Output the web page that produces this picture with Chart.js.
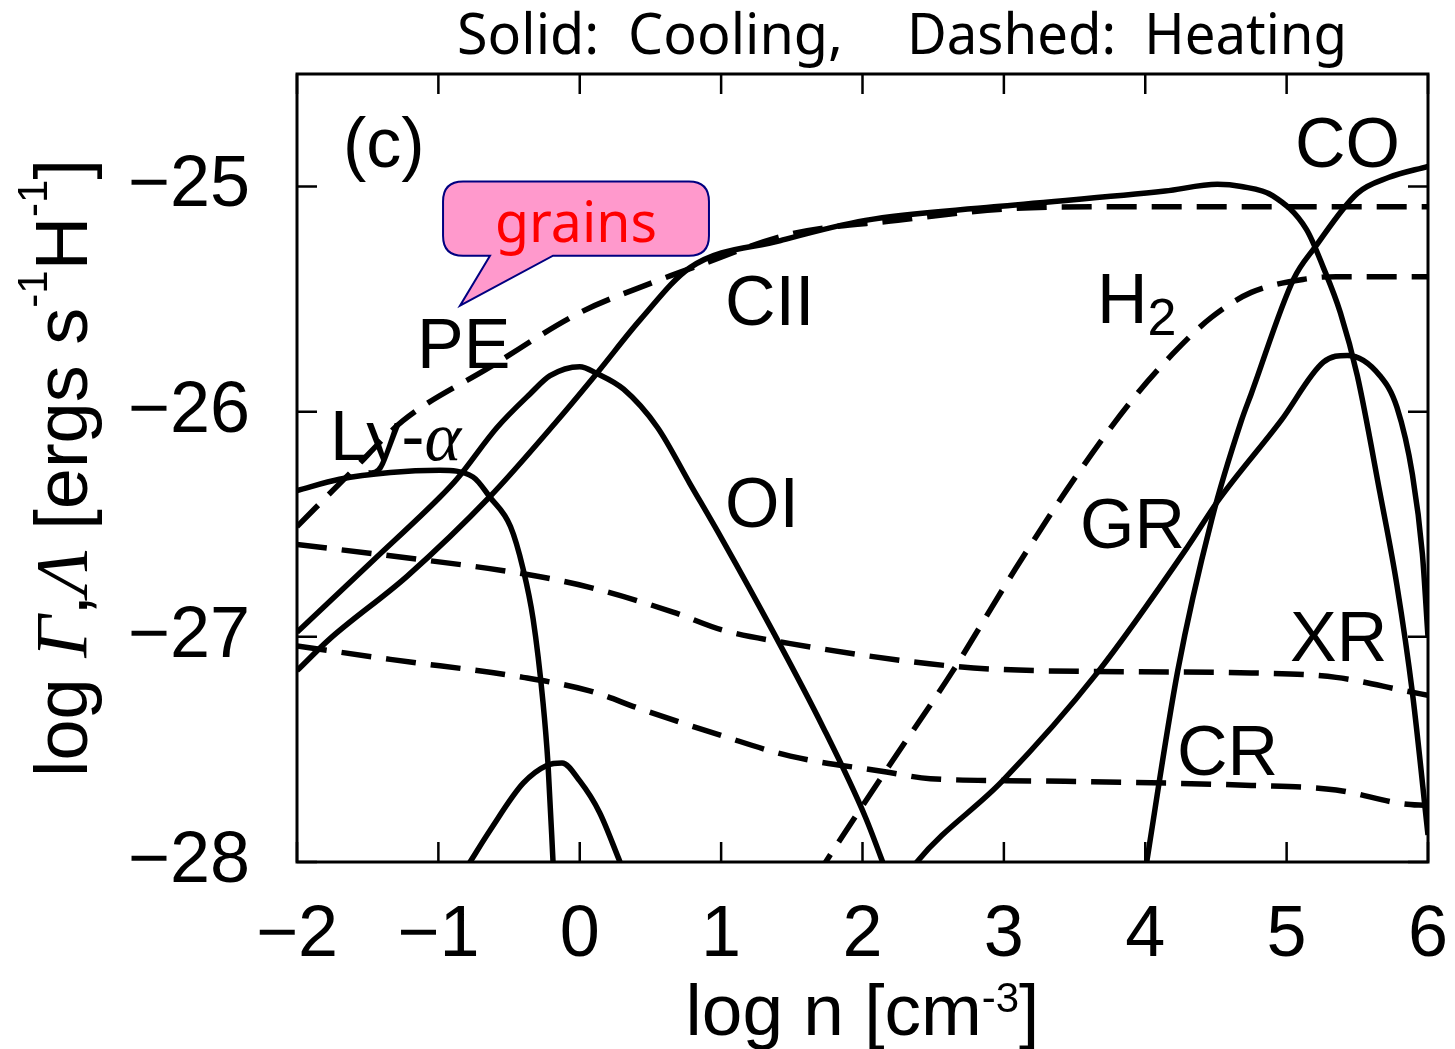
<!DOCTYPE html>
<html>
<head>
<meta charset="utf-8">
<title>Cooling and heating rates</title>
<script src="https://cdn.jsdelivr.net/npm/chart.js@4.4.1/dist/chart.umd.min.js"></script>
<style>
  html, body { margin: 0; padding: 0; background: #fff; overflow: hidden; }
  canvas { display: block; }
</style>
</head>
<body>
<canvas id="coolingChart" width="1455" height="1049"></canvas>
<script>
// 目盛り
const xTicks = [-2, -1, 0, 1, 2, 3, 4, 5, 6];
const yTicks = [-28, -27, -26, -25];

// 冷却率（実線） log n, log Λ
const lyaX = [-2.0, -1.70, -1.34, -0.99, -0.755, -0.635, -0.49, -0.40, -0.33, -0.26, -0.225, -0.185];
const lyaY = [-26.35, -26.30, -26.27, -26.26, -26.29, -26.38, -26.51, -26.70, -26.92, -27.29, -27.56, -28.05];

const ciiX = [-2.0, -1.77, -1.22, -0.64, -0.16, 0.12, 0.43, 0.78, 1.42, 2.02, 2.93, 4.14, 4.51, 4.68, 4.90, 5.14, 5.26, 5.38, 5.50, 5.66, 5.78, 5.89, 6.0];
const ciiY = [-27.15, -27.01, -26.73, -26.38, -26.04, -25.83, -25.59, -25.36, -25.24, -25.15, -25.09, -25.02, -24.99, -25.00, -25.04, -25.19, -25.36, -25.56, -25.84, -26.36, -26.77, -27.25, -27.88];

const oiX = [-2.0, -1.46, -0.99, -0.87, -0.585, -0.35, -0.21, 0.0, 0.12, 0.31, 0.55, 0.78, 1.01, 1.37, 1.72, 2.02, 2.19];
const oiY = [-26.98, -26.66, -26.38, -26.30, -26.07, -25.92, -25.84, -25.80, -25.83, -25.90, -26.07, -26.32, -26.57, -26.98, -27.40, -27.80, -28.08];

const extraX = [-0.856, -0.776, -0.635, -0.40, -0.23, -0.125, 0.0, 0.14, 0.285, 0.338];
const extraY = [-28.08, -28.0, -27.86, -27.65, -27.57, -27.56, -27.64, -27.78, -28.0, -28.08];

const grX = [2.30, 2.385, 2.99, 3.66, 4.30, 4.51, 4.96, 5.26, 5.43, 5.66, 5.78, 5.89, 5.96, 6.0];
const grY = [-28.08, -28.0, -27.64, -27.16, -26.60, -26.40, -26.04, -25.78, -25.75, -25.84, -25.98, -26.28, -26.63, -27.0];

const coX = [3.99, 4.23, 4.47, 4.68, 4.75, 5.05, 5.20, 5.50, 5.72, 6.0];
const coY = [-28.08, -27.15, -26.48, -26.04, -25.92, -25.41, -25.27, -25.03, -24.96, -24.91];

// 加熱率（破線） log n, log Γ
const peX = [-2.0, -1.62, -1.25, -0.63, 0.0, 0.5, 0.8, 1.5, 2.25, 3.0, 3.7, 4.5, 5.0, 6.0];
const peY = [-26.51, -26.27, -26.04, -25.80, -25.56, -25.43, -25.36, -25.21, -25.15, -25.10, -25.09, -25.09, -25.09, -25.09];

const h2X = [1.66, 1.75, 2.17, 2.63, 3.08, 3.54, 3.93, 4.23, 4.47, 4.75, 5.14, 5.35, 6.0];
const h2Y = [-28.08, -27.99, -27.59, -27.16, -26.70, -26.26, -25.93, -25.72, -25.58, -25.47, -25.41, -25.40, -25.40];

const xrX = [-2.0, -1.34, -0.40, 0.07, 0.66, 1.01, 1.49, 2.63, 3.23, 4.75, 5.35, 5.84, 6.0];
const xrY = [-26.59, -26.64, -26.72, -26.78, -26.89, -26.97, -27.03, -27.13, -27.15, -27.16, -27.18, -27.24, -27.26];

const crX = [-2.0, -1.34, -0.40, 0.07, 0.43, 1.01, 1.49, 2.17, 2.48, 3.23, 4.75, 5.35, 5.81, 6.0];
const crY = [-27.04, -27.10, -27.18, -27.24, -27.32, -27.44, -27.53, -27.60, -27.63, -27.64, -27.66, -27.68, -27.74, -27.75];

const SANS = '"Liberation Sans", Arial, Helvetica, sans-serif';
const SERIF = '"Liberation Serif", "Times New Roman", serif';
const GOTHIC = '"Noto Sans", "DejaVu Sans", sans-serif';

const series = [
  { name: 'Ly-α', x: lyaX, y: lyaY, dashed: false },
  { name: 'CII', x: ciiX, y: ciiY, dashed: false },
  { name: 'OI', x: oiX, y: oiY, dashed: false },
  { name: 'extra', x: extraX, y: extraY, dashed: false },
  { name: 'GR', x: grX, y: grY, dashed: false },
  { name: 'CO', x: coX, y: coY, dashed: false },
  { name: 'PE', x: peX, y: peY, dashed: true },
  { name: 'H2', x: h2X, y: h2Y, dashed: true },
  { name: 'XR', x: xrX, y: xrY, dashed: true },
  { name: 'CR', x: crX, y: crY, dashed: true }
];

// 曲線の名前（左端・ベースラインをデータ座標で指定）
const curveLabels = [
  { x: -1.675, y: -24.911, runs: [{ t: '(c)' }] },
  { x: -1.151, y: -25.804, runs: [{ t: 'PE' }] },
  { x: -1.767, y: -26.213, runs: [{ t: 'Ly-' }, { t: 'α', font: 'italic 70px ' + SERIF }] },
  { x: 1.027, y: -25.613, runs: [{ t: 'CII' }] },
  { x: 1.027, y: -26.511, runs: [{ t: 'OI' }] },
  { x: 3.659, y: -25.605, runs: [{ t: 'H' }, { t: '2', font: '52px ' + SANS, dy: 12 }] },
  { x: 3.538, y: -26.604, runs: [{ t: 'GR' }] },
  { x: 5.024, y: -27.107, runs: [{ t: 'XR' }] },
  { x: 4.225, y: -27.613, runs: [{ t: 'CR' }] },
  { x: 5.059, y: -24.911, runs: [{ t: 'CO' }] }
];

// 複数フォントを並べて描く
function drawRuns(ctx, runs, x, y, align, baseFont) {
  let total = 0;
  runs.forEach(r => {
    ctx.font = r.font || baseFont;
    r.w = ctx.measureText(r.t).width;
    total += r.w;
  });
  let cx = align === 'center' ? x - total / 2 : x;
  runs.forEach(r => {
    ctx.font = r.font || baseFont;
    ctx.fillText(r.t, cx, y + (r.dy || 0));
    cx += r.w;
  });
}

function fmtTick(v) {
  return String(v).replace('-', '\u2212');
}

// 枠と内向きの目盛り線
const framePlugin = {
  id: 'frame',
  afterDatasetsDraw(chart) {
    const { ctx, chartArea: a, scales: { x, y } } = chart;
    ctx.save();
    ctx.strokeStyle = '#000';
    ctx.lineWidth = 2.5;
    ctx.beginPath();
    xTicks.forEach(v => {
      const px = x.getPixelForValue(v);
      ctx.moveTo(px, a.bottom); ctx.lineTo(px, a.bottom - 20);
      ctx.moveTo(px, a.top); ctx.lineTo(px, a.top + 20);
    });
    yTicks.forEach(v => {
      const py = y.getPixelForValue(v);
      ctx.moveTo(a.left, py); ctx.lineTo(a.left + 20, py);
      ctx.moveTo(a.right, py); ctx.lineTo(a.right - 20, py);
    });
    ctx.stroke();
    ctx.lineWidth = 3;
    ctx.strokeRect(a.left, a.top, a.right - a.left, a.bottom - a.top);
    ctx.restore();
  }
};

// ラベル・軸タイトル・吹き出し
const textPlugin = {
  id: 'texts',
  afterDraw(chart) {
    const { ctx, chartArea: a, scales: { x, y } } = chart;
    ctx.save();
    ctx.fillStyle = '#000';
    ctx.textBaseline = 'alphabetic';
    ctx.textAlign = 'left';

    curveLabels.forEach(l => {
      drawRuns(ctx, l.runs, x.getPixelForValue(l.x), y.getPixelForValue(l.y), 'left', '70px ' + SANS);
    });

    // 上の見出し
    ctx.font = '56px ' + GOTHIC;
    ctx.fillText('Solid:  Cooling,', 457, 54, 386);
    ctx.fillText('Dashed:  Heating', 907, 54, 440);

    // 横軸タイトル
    const cx = (a.left + a.right) / 2;
    drawRuns(ctx, [
      { t: 'log n [cm' },
      { t: '-3', font: '42px ' + SANS, dy: -23 },
      { t: ']' }
    ], cx, 1035, 'center', '73px ' + SANS);

    // 縦軸タイトル
    ctx.save();
    ctx.translate(87, (a.top + a.bottom) / 2);
    ctx.rotate(-Math.PI / 2);
    drawRuns(ctx, [
      { t: 'log ' },
      { t: 'Γ', font: 'italic 74px ' + SERIF },
      { t: ',' },
      { t: 'Λ', font: 'italic 74px ' + SERIF },
      { t: ' [ergs s' },
      { t: '-1', font: '42px ' + SANS, dy: -40 },
      { t: 'H' },
      { t: '-1', font: '42px ' + SANS, dy: -40 },
      { t: ']' }
    ], 0, 0, 'center', '74px ' + SANS);
    ctx.restore();

    // grains の吹き出し
    const L = x.getPixelForValue(-0.967), R = x.getPixelForValue(0.914);
    const T = y.getPixelForValue(-24.978), B = y.getPixelForValue(-25.307);
    const ta = x.getPixelForValue(-0.635), tb = x.getPixelForValue(-0.189);
    const tipX = x.getPixelForValue(-0.847), tipY = y.getPixelForValue(-25.529);
    const r = 20;
    ctx.beginPath();
    ctx.moveTo(L + r, T);
    ctx.lineTo(R - r, T);
    ctx.quadraticCurveTo(R, T, R, T + r);
    ctx.lineTo(R, B - r);
    ctx.quadraticCurveTo(R, B, R - r, B);
    ctx.lineTo(tb, B);
    ctx.lineTo(tipX, tipY);
    ctx.lineTo(ta, B);
    ctx.lineTo(L + r, B);
    ctx.quadraticCurveTo(L, B, L, B - r);
    ctx.lineTo(L, T + r);
    ctx.quadraticCurveTo(L, T, L + r, T);
    ctx.closePath();
    ctx.fillStyle = '#ff99cc';
    ctx.fill();
    ctx.strokeStyle = '#000080';
    ctx.lineWidth = 2;
    ctx.stroke();

    ctx.fillStyle = '#ff0000';
    ctx.textAlign = 'center';
    ctx.font = '56px ' + GOTHIC;
    ctx.fillText('grains', (L + R) / 2, y.getPixelForValue(-25.245), 162);
    ctx.restore();
  }
};

let datasets = series.map(s => ({
  label: s.name,
  data: s.x.map((v, i) => ({ x: v, y: s.y[i] })),
  borderColor: '#000',
  borderWidth: 5.5,
  borderDash: s.dashed ? [30, 15] : [],
  borderCapStyle: 'butt',
  borderJoinStyle: 'round',
  pointRadius: 0,
  fill: false,
  cubicInterpolationMode: 'monotone',
  clip: 0
}));

let config = {
  type: 'line',
  data: { datasets: datasets },
  options: {
    responsive: false,
    animation: false,
    devicePixelRatio: 1,
    layout: { padding: { top: 74, right: 27, left: 0, bottom: 0 } },
    plugins: {
      legend: { display: false },
      tooltip: { enabled: false }
    },
    scales: {
      x: {
        type: 'linear',
        min: -2,
        max: 6,
        grid: { display: false, drawTicks: false },
        border: { display: false },
        afterBuildTicks: s => { s.ticks = xTicks.map(v => ({ value: v })); },
        afterFit: s => { s.height = 187; s.paddingLeft = 0; s.paddingRight = 0; },
        ticks: {
          color: '#000',
          font: { family: SANS, size: 72 },
          padding: 31,
          maxRotation: 0,
          autoSkip: false,
          callback: fmtTick
        }
      },
      y: {
        type: 'linear',
        min: -28,
        max: -24.5,
        grid: { display: false, drawTicks: false },
        border: { display: false },
        afterBuildTicks: s => { s.ticks = yTicks.map(v => ({ value: v })); },
        afterFit: s => { s.width = 297; s.paddingTop = 0; s.paddingBottom = 0; },
        ticks: {
          color: '#000',
          font: { family: SANS, size: 72 },
          padding: 47,
          autoSkip: false,
          callback: fmtTick
        }
      }
    }
  },
  plugins: [framePlugin, textPlugin]
};

let coolingChart = new Chart(document.getElementById('coolingChart'), config);
</script>
</body>
</html>
